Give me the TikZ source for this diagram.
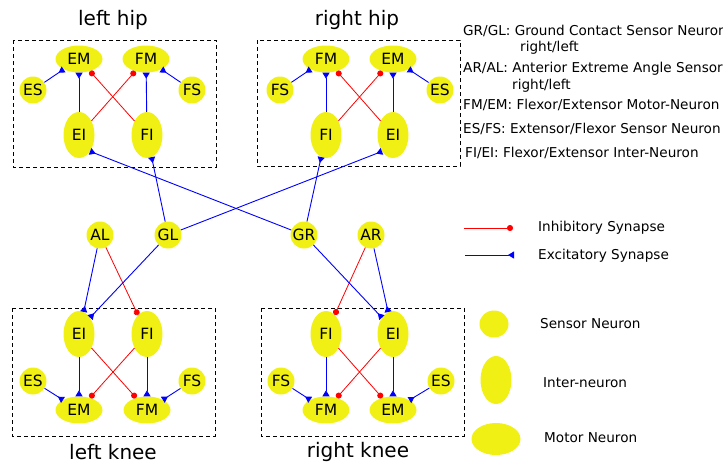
\documentclass[tikz,border=0pt]{standalone}
\usepackage{fontspec}
\setmainfont{DejaVu Sans}
\usetikzlibrary{shapes.geometric,arrows.meta}
\definecolor{neuron}{RGB}{240,240,20}
\definecolor{exc}{RGB}{0,0,255}
\definecolor{inh}{RGB}{255,0,0}
\tikzset{
  cell/.style={fill=neuron,draw=none,inner sep=0pt,font=\fontsize{15.5}{18}\selectfont},
  sensor/.style={cell,circle,minimum size=27pt},
  inter/.style={cell,ellipse,minimum width=31pt,minimum height=46pt},
  motor/.style={cell,ellipse,minimum width=47pt,minimum height=27pt},
  excite/.style={exc,line width=0.9pt,-{Triangle[reversed,length=6pt,width=7pt]}},
  inhibit/.style={inh,line width=0.8pt,-{Circle[length=6pt]}},
  group/.style={draw=black,dash pattern=on 4pt off 3pt,line width=0.8pt},
  title/.style={font=\fontsize{20}{24}\selectfont,inner sep=0pt},
  legend/.style={font=\fontsize{13.6}{16}\selectfont,inner sep=0pt,anchor=west}
}
\begin{document}
\begin{tikzpicture}[x=1pt,y=-1pt]
\useasboundingbox (0,0) rectangle (723,464);
\clip (0,0) rectangle (723,464);

% group frames
\draw[group] (13,40) rectangle (216,167);
\draw[group] (257,40) rectangle (460,166);
\draw[group] (12,308) rectangle (215,436);
\draw[group] (261,308) rectangle (464,436);

% titles
\node[title] (tlh) at (113,20) {left hip};
\node[title] (trh) at (357,20) {right hip};
\node[title] (tlk) at (113,452) {left knee};
\node[title] (trk) at (358,452) {right knee};

% left hip
\node[motor]  (lhEM) at (79,59)  {EM};
\node[motor]  (lhFM) at (146,59) {FM};
\node[sensor] (lhES) at (33,90)  {ES};
\node[sensor] (lhFS) at (192,90) {FS};
\node[inter]  (lhEI) at (79,135) {EI};
\node[inter]  (lhFI) at (147,135) {FI};

% right hip
\node[motor]  (rhFM) at (326,59) {FM};
\node[motor]  (rhEM) at (393,59) {EM};
\node[sensor] (rhFS) at (280,90) {FS};
\node[sensor] (rhES) at (440,90) {ES};
\node[inter]  (rhFI) at (326,135) {FI};
\node[inter]  (rhEI) at (393,135) {EI};

% ground contact and angle sensors
\node[sensor] (AL) at (100,235) {AL};
\node[sensor] (GL) at (168,235) {GL};
\node[sensor] (GR) at (304,235) {GR};
\node[sensor] (AR) at (371,235) {AR};

% left knee
\node[inter]  (lkEI) at (79,334)  {EI};
\node[inter]  (lkFI) at (147,334) {FI};
\node[sensor] (lkES) at (33,381)  {ES};
\node[sensor] (lkFS) at (192,381) {FS};
\node[motor]  (lkEM) at (79,410)  {EM};
\node[motor]  (lkFM) at (147,410) {FM};

% right knee
\node[inter]  (rkFI) at (326,334) {FI};
\node[inter]  (rkEI) at (393,334) {EI};
\node[sensor] (rkFS) at (281,381) {FS};
\node[sensor] (rkES) at (441,381) {ES};
\node[motor]  (rkFM) at (326,410) {FM};
\node[motor]  (rkEM) at (393,410) {EM};

% hip circuits
\draw[excite] (lhES) -- (lhEM);
\draw[excite] (lhFS) -- (lhFM);
\draw[excite] (lhEI) -- (lhEM);
\draw[excite] (lhFI) -- (lhFM);
\draw[inhibit] (lhEI) -- (lhFM);
\draw[inhibit] (lhFI) -- (lhEM);

\draw[excite] (rhFS) -- (rhFM);
\draw[excite] (rhES) -- (rhEM);
\draw[excite] (rhFI) -- (rhFM);
\draw[excite] (rhEI) -- (rhEM);
\draw[inhibit] (rhFI) -- (rhEM);
\draw[inhibit] (rhEI) -- (rhFM);

% crossed ground contact inputs to the hips
\draw[excite] (GL) -- (lhFI);
\draw[excite] (GL) -- (rhEI.south west);
\draw[excite] (GR) -- (rhFI);
\draw[excite] (GR) -- (lhEI.south east);

% sensor inputs to the knees
\draw[excite] (AL) -- (lkEI);
\draw[inhibit] (AL) -- (lkFI);
\draw[excite] (GL) -- (lkEI.north east);
\draw[excite] (AR) -- (rkEI);
\draw[inhibit] (AR) -- (rkFI);
\draw[excite] (GR) -- (rkEI.north west);

% knee circuits
\draw[excite] (lkEI) -- (lkEM);
\draw[excite] (lkFI) -- (lkFM);
\draw[excite] (lkES) -- (lkEM);
\draw[excite] (lkFS) -- (lkFM);
\draw[inhibit] (lkEI) -- (lkFM);
\draw[inhibit] (lkFI) -- (lkEM);

\draw[excite] (rkFI) -- (rkFM);
\draw[excite] (rkEI) -- (rkEM);
\draw[excite] (rkFS) -- (rkFM);
\draw[excite] (rkES) -- (rkEM);
\draw[inhibit] (rkFI) -- (rkEM);
\draw[inhibit] (rkEI) -- (rkFM);

% abbreviations
\node[legend] (k1)  at (463,31)  {GR/GL: Ground Contact Sensor Neuron};
\node[legend] (k1b) at (520,48)  {right/left};
\node[legend] (k2)  at (463,69)  {AR/AL: Anterior Extreme Angle Sensor};
\node[legend] (k2b) at (512,86)  {right/left};
\node[legend] (k3)  at (463,105) {FM/EM: Flexor/Extensor Motor-Neuron};
\node[legend] (k4)  at (463,129) {ES/FS: Extensor/Flexor Sensor Neuron};
\node[legend] (k5)  at (465,153) {FI/EI: Flexor/Extensor Inter-Neuron};

% synapse key
\coordinate (i0) at (464,228);
\coordinate (i1) at (513,228);
\draw[inhibit] (i0) -- (i1);
\node[legend] (li) at (538,228) {Inhibitory Synapse};
\coordinate (e0) at (465,255);
\coordinate (e1) at (514,255);
\draw[excite] (e0) -- (e1);
\node[legend] (le) at (538,256) {Excitatory Synapse};

% neuron key
\node[cell,ellipse,minimum width=29pt,minimum height=27pt] (ks) at (494,324) {};
\node[legend] (ls) at (540,324) {Sensor Neuron};
\node[cell,ellipse,minimum width=31pt,minimum height=48pt] (ki) at (496,380) {};
\node[legend] (lin) at (543,383) {Inter-neuron};
\node[cell,ellipse,minimum width=49pt,minimum height=32pt] (km) at (496,439) {};
\node[legend] (lm) at (544,438) {Motor Neuron};
\end{tikzpicture}
\end{document}
